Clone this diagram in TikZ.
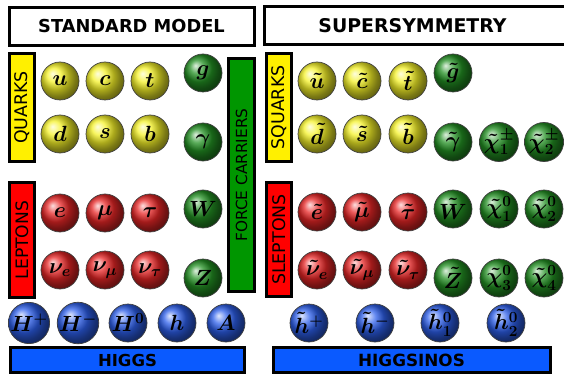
\RequirePackage{fix-cm}
\documentclass[tikz,border=0pt]{standalone}
\usepackage{amsmath}
\usepackage{fontspec}
\newfontfamily\labelfont{DejaVu Sans}
\definecolor{qyellow}{RGB}{245,242,40}
\definecolor{lred}{RGB}{232,38,38}
\definecolor{bgreen}{RGB}{35,145,35}
\definecolor{hblue}{RGB}{45,95,235}
\definecolor{boxyellow}{RGB}{255,240,0}
\definecolor{boxred}{RGB}{255,0,0}
\definecolor{boxgreen}{RGB}{0,150,0}
\definecolor{boxblue}{RGB}{10,90,255}
\newcommand{\lblsize}[1]{\fontsize{#1}{#1}\selectfont}
\tikzset{
  particle/.style={circle, minimum size=38pt, inner sep=0pt, draw=black!75,
    line width=0.7pt, shade, font=\boldmath\lblsize{22}},
  quark/.style={particle, ball color=qyellow},
  lepton/.style={particle, ball color=lred},
  boson/.style={particle, ball color=bgreen},
  higgs/.style={particle, ball color=hblue},
  headbox/.style={draw=black, line width=3pt, fill=white, inner sep=0pt,
    font=\labelfont\bfseries},
  sidebox/.style={draw=black, line width=3pt, inner sep=0pt, rotate=90,
    font=\labelfont},
  barbox/.style={draw=black, line width=3pt, inner sep=0pt,
    font=\labelfont\bfseries},
}
\begin{document}
\begin{tikzpicture}[x=1pt, y=-1pt]
\useasboundingbox (0,0) rectangle (564,374);

% column headings
\node[headbox, minimum width=245pt, minimum height=38pt] (smhead) at (131.5,26.5) {\lblsize{17.8}STANDARD MODEL};
\node[headbox, minimum width=303pt, minimum height=38pt] (susyhead) at (416,26) {\hspace*{-7pt}\lblsize{18.9}SUPERSYMMETRY};

% group labels, standard model
\node[sidebox, fill=boxyellow, minimum width=108pt, minimum height=25pt] (quarks) at (22,107.5) {\lblsize{17.4}QUARKS};
\node[sidebox, fill=boxred, minimum width=115pt, minimum height=25pt] (leptons) at (22,240) {\lblsize{17.1}LEPTONS};
\node[sidebox, fill=boxgreen, minimum width=233pt, minimum height=26pt] (force) at (241.5,175) {\lblsize{15.3}FORCE CARRIERS};
\node[barbox, fill=boxblue, minimum width=234pt, minimum height=25pt] (higgsbar) at (127.5,360) {\lblsize{16.5}HIGGS};

% group labels, supersymmetry
\node[sidebox, fill=boxyellow, minimum width=108pt, minimum height=25pt] (squarks) at (279,107.5) {\lblsize{17.4}SQUARKS};
\node[sidebox, fill=boxred, minimum width=114pt, minimum height=25pt] (sleptons) at (279,239.5) {\lblsize{17.4}SLEPTONS};
\node[barbox, fill=boxblue, minimum width=277pt, minimum height=25pt] (higgsinobar) at (411.5,360) {\lblsize{16.8}HIGGSINOS};

% quarks
\node[quark] (u) at (60,81) {$u$};
\node[quark] (c) at (105,81) {$c$};
\node[quark] (t) at (150,81) {$t$};
\node[quark] (d) at (60,134) {$d$};
\node[quark] (s) at (105,134) {$s$};
\node[quark] (b) at (150,134) {$b$};

% leptons
\node[lepton] (e) at (60,213) {$e$};
\node[lepton] (mu) at (105,213) {$\mu$};
\node[lepton] (tau) at (150,213) {$\tau$};
\node[lepton] (nue) at (60,270) {$\nu_e$};
\node[lepton] (numu) at (105,270) {$\nu_\mu$};
\node[lepton] (nutau) at (150,270) {$\nu_\tau$};

% gauge bosons
\node[boson] (g) at (203,73) {$g$};
\node[boson] (gamma) at (203,142) {$\gamma$};
\node[boson] (W) at (203,209) {$W$};
\node[boson] (Z) at (203,278) {$Z$};

% higgs bosons
\node[higgs] (Hp) at (29,323) {$H^+$};
\node[higgs] (Hm) at (78,323) {$H^-$};
\node[higgs] (H0) at (128,323) {$H^0$};
\node[higgs] (h) at (177,323) {$h$};
\node[higgs] (A) at (226,323) {$A$};

% squarks
\node[quark] (su) at (317,81) {$\tilde u$};
\node[quark] (sc) at (362,81) {$\tilde c$};
\node[quark] (st) at (408,81) {$\tilde t$};
\node[quark] (sd) at (317,134) {$\tilde d$};
\node[quark] (ss) at (362,134) {$\tilde s$};
\node[quark] (sb) at (408,134) {$\tilde b$};

% sleptons
\node[lepton] (se) at (317,212) {$\tilde e$};
\node[lepton] (smu) at (362,212) {$\tilde\mu$};
\node[lepton] (stau) at (408,212) {$\tilde\tau$};
\node[lepton] (snue) at (317,270) {$\tilde\nu_e$};
\node[lepton] (snumu) at (362,270) {$\tilde\nu_\mu$};
\node[lepton] (snutau) at (408,270) {$\tilde\nu_\tau$};

% gauginos
\node[boson] (sg) at (453,73) {$\tilde g$};
\node[boson] (sgamma) at (453,142) {$\tilde\gamma$};
\node[boson] (chp1) at (499,142) {$\tilde\chi_1^\pm$};
\node[boson] (chp2) at (544,142) {$\tilde\chi_2^\pm$};
\node[boson] (sW) at (453,209) {$\tilde W$};
\node[boson] (chn1) at (499,209) {$\tilde\chi_1^0$};
\node[boson] (chn2) at (544,209) {$\tilde\chi_2^0$};
\node[boson] (sZ) at (453,278) {$\tilde Z$};
\node[boson] (chn3) at (499,278) {$\tilde\chi_3^0$};
\node[boson] (chn4) at (544,278) {$\tilde\chi_4^0$};

% higgsinos
\node[higgs] (shp) at (309,323) {$\tilde h^+$};
\node[higgs] (shm) at (375,323) {$\tilde h^-$};
\node[higgs] (sh1) at (440,323) {$\tilde h_1^0$};
\node[higgs] (sh2) at (506,323) {$\tilde h_2^0$};
\end{tikzpicture}
\end{document}
